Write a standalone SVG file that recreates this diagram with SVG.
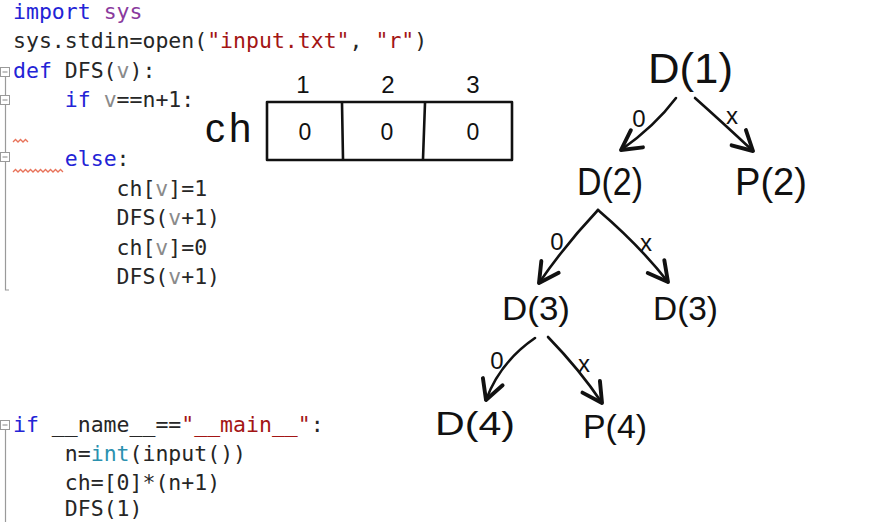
<svg xmlns="http://www.w3.org/2000/svg" width="874" height="522" viewBox="0 0 874 522">
<style>
.code{font-family:"DejaVu Sans Mono","Liberation Mono",monospace;font-size:21.5px;fill:#262626}
.kw{fill:#2323d6}
.mod{fill:#8a3a9e}
.str{fill:#a31515}
.prm{fill:#8a8a8a}
.bi{fill:#2b91af}
.hand{font-family:"Liberation Sans","DejaVu Sans",sans-serif;fill:#111}
.node{font-size:38px}
.lbl{font-size:24px;text-anchor:middle}
.ln{stroke:#111;stroke-width:2.6;fill:none;stroke-linecap:round;stroke-linejoin:round}
.gut{stroke:#9a9a9a;stroke-width:1.2;fill:none}
.fold{stroke:#9a9a9a;stroke-width:1;fill:#fff}
.sq{stroke:#e8735a;stroke-width:1.3;fill:none}
</style>
<defs>
<marker id="ah" markerUnits="userSpaceOnUse" markerWidth="30" markerHeight="30" refX="0" refY="0" viewBox="-16 -10 20 20" orient="auto">
<path d="M-13,-7 L0,0 L-13,7" stroke="#111" stroke-width="2.6" fill="none" stroke-linecap="round" stroke-linejoin="round"/>
</marker>
</defs>
<rect width="874" height="522" fill="#fff"/>
<g id="gutter">
<path class="gut" d="M5.5,77 V290 H9"/>
<rect class="fold" x="0.5" y="67.5" width="9" height="9"/>
<path class="gut" d="M2.5,72 H7.5"/>
<rect class="fold" x="0.5" y="95.5" width="9" height="9"/>
<path class="gut" d="M2.5,100 H7.5"/>
<rect class="fold" x="0.5" y="152.5" width="9" height="9"/>
<path class="gut" d="M2.5,157 H7.5"/>
<path class="gut" d="M5.5,430 V522"/>
<rect class="fold" x="0.5" y="420.5" width="9" height="9"/>
<path class="gut" d="M2.5,425 H7.5"/>
<path class="sq" d="M13,142 l2.5,-2.5 l2.5,2.5 l2.5,-2.5 l2.5,2.5 l2.5,-2.5 l2.5,2.5"/>
<path class="sq" d="M13,172 l2.5,-2.5 l2.5,2.5 l2.5,-2.5 l2.5,2.5 l2.5,-2.5 l2.5,2.5 l2.5,-2.5 l2.5,2.5 l2.5,-2.5 l2.5,2.5 l2.5,-2.5 l2.5,2.5 l2.5,-2.5 l2.5,2.5 l2.5,-2.5 l2.5,2.5 l2.5,-2.5 l2.5,2.5 l2.5,-2.5 l2.5,2.5"/>
</g>
<g id="code" class="code">
<text x="13" y="18.5"><tspan class="kw">import</tspan> <tspan class="mod">sys</tspan></text>
<text x="13" y="48">sys.stdin=open(<tspan class="str">"input.txt"</tspan>, <tspan class="str">"r"</tspan>)</text>
<text x="13" y="77.5"><tspan class="kw">def</tspan> DFS(<tspan class="prm">v</tspan>):</text>
<text x="64.8" y="107"><tspan class="kw">if</tspan> <tspan class="prm">v</tspan>==n+1:</text>
<text x="64.8" y="166"><tspan class="kw">else</tspan>:</text>
<text x="116.5" y="195.5">ch[<tspan class="prm">v</tspan>]=1</text>
<text x="116.5" y="225">DFS(<tspan class="prm">v</tspan>+1)</text>
<text x="116.5" y="254.5">ch[<tspan class="prm">v</tspan>]=0</text>
<text x="116.5" y="284">DFS(<tspan class="prm">v</tspan>+1)</text>
<text x="13" y="432"><tspan class="kw">if</tspan> __name__==<tspan class="str">"__main__"</tspan>:</text>
<text x="64.8" y="461">n=<tspan class="bi">int</tspan>(input())</text>
<text x="64.8" y="489.5">ch=[0]*(n+1)</text>
<text x="64.8" y="516">DFS(1)</text>
</g>
<g id="array" class="hand">
<text x="205" y="142" font-size="40" letter-spacing="4">ch</text>
<rect x="267" y="102" width="245" height="58" class="ln"/>
<path class="ln" d="M342,103 L343,159 M425,103 L423,159"/>
<text x="303" y="93" font-size="24" text-anchor="middle">1</text>
<text x="388" y="93" font-size="24" text-anchor="middle">2</text>
<text x="473" y="93" font-size="24" text-anchor="middle">3</text>
<text x="305" y="140" font-size="23" text-anchor="middle">0</text>
<text x="387" y="140" font-size="23" text-anchor="middle">0</text>
<text x="473" y="140" font-size="23" text-anchor="middle">0</text>
</g>
<g id="connectors">
<path class="ln" marker-end="url(#ah)" d="M676,98 Q655,126 621,150"/>
<path class="ln" marker-end="url(#ah)" d="M695,98 Q722,122 753,151"/>
<path class="ln" marker-end="url(#ah)" d="M598,210 Q565,245 539,283"/>
<path class="ln" marker-end="url(#ah)" d="M598,210 Q640,246 668,282"/>
<path class="ln" marker-end="url(#ah)" d="M535,338 Q500,362 486,400"/>
<path class="ln" marker-end="url(#ah)" d="M548,337 Q580,370 602,403"/>
<g class="hand lbl">
<text x="639" y="127">0</text>
<text x="732" y="124">x</text>
<text x="557" y="250">0</text>
<text x="646" y="251">x</text>
<text x="497" y="369">0</text>
<text x="584" y="372">x</text>
</g>
</g>
<g id="n1" class="hand node"><text x="648" y="83" font-size="42" textLength="85" lengthAdjust="spacingAndGlyphs">D(1)</text></g>
<g id="n2" class="hand node"><text x="577" y="195" textLength="66" lengthAdjust="spacingAndGlyphs">D(2)</text></g>
<g id="n3" class="hand node"><text x="735" y="195" textLength="72" lengthAdjust="spacingAndGlyphs">P(2)</text></g>
<g id="n4" class="hand node"><text x="502" y="320" font-size="34" textLength="68" lengthAdjust="spacingAndGlyphs">D(3)</text></g>
<g id="n5" class="hand node"><text x="653" y="320" font-size="34" textLength="65" lengthAdjust="spacingAndGlyphs">D(3)</text></g>
<g id="n6" class="hand node"><text x="435" y="435" font-size="34" textLength="80" lengthAdjust="spacingAndGlyphs">D(4)</text></g>
<g id="n7" class="hand node"><text x="583" y="438" font-size="34" textLength="64" lengthAdjust="spacingAndGlyphs">P(4)</text></g>
</svg>
